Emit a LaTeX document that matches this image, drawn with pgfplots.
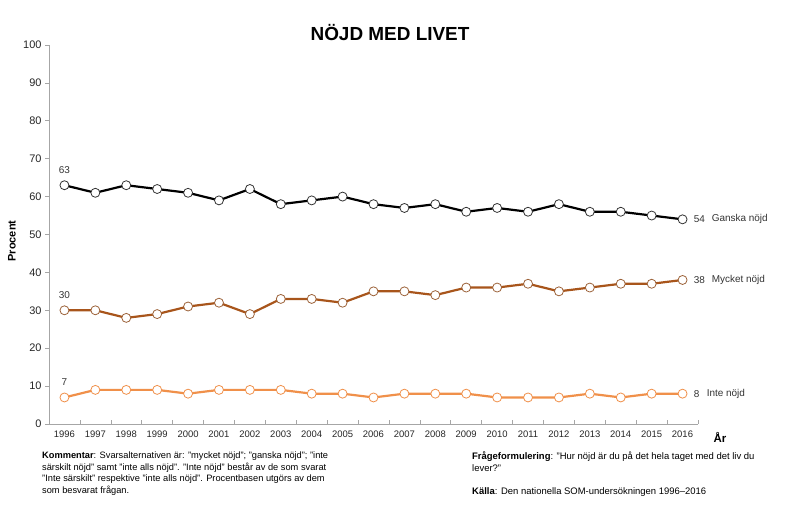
\documentclass[border=0pt]{standalone}
\usepackage{pgfplots}
\pgfplotsset{compat=1.18}
\usepackage{fontspec}
\setmainfont{Liberation Sans}

\definecolor{ganska}{HTML}{000000}
\definecolor{mycket}{HTML}{A8551B}
\definecolor{inte}{HTML}{F0904A}
\definecolor{axgray}{HTML}{A6A6A6}

\pgfplotstableread{
year ganska mycket inte
1996 63 30 7
1997 61 30 9
1998 63 28 9
1999 62 29 9
2000 61 31 8
2001 59 32 9
2002 62 29 9
2003 58 33 9
2004 59 33 8
2005 60 32 8
2006 58 35 7
2007 57 35 8
2008 58 34 8
2009 56 36 8
2010 57 36 7
2011 56 37 7
2012 58 35 7
2013 56 36 8
2014 56 37 7
2015 55 37 8
2016 54 38 8
}\somdata

\begin{document}
\begin{tikzpicture}[x=1bp,y=1bp]
\useasboundingbox (0,0) rectangle (800,518);
\node[font=\fontsize{19}{21}\selectfont\bfseries] at (390,485) {NÖJD MED LIVET};
\node[font=\fontsize{11}{13}\selectfont\bfseries,rotate=90] at (12,277) {Procent};
\node[font=\fontsize{11.5}{13}\selectfont\bfseries] at (720,81) {År};
\begin{axis}[
  at={(49bp,94bp)}, anchor=south west,
  width=649bp, height=379bp, scale only axis,
  xmin=1995.5, xmax=2016.5, ymin=0, ymax=100,
  axis lines*=left,
  axis line style={axgray, line width=0.8pt},
  xtick={1996,...,2016},
  minor xtick={1995.5,1996.5,...,2016.5},
  major x tick style={draw=none},
  minor x tick style={axgray, line width=0.6pt},
  minor tick length=4bp,
  ytick={0,10,...,100},
  y tick style={axgray, line width=0.6pt},
  major tick length=4bp,
  tick align=inside,
  ytick align=outside,
  x tick label style={font=\fontsize{9.5}{11}\selectfont, text=black!85, /pgf/number format/1000 sep={}},
  y tick label style={font=\fontsize{11}{13}\selectfont, text=black!85},
  xticklabel style={yshift=-3bp},
  /pgf/number format/assume math mode=true,
  clip=false,
  every axis plot/.append style={line width=2.2pt, mark=*, mark size=4.5bp},
]
\addplot[ganska, mark options={fill=white, draw=black!80, line width=0.8pt}] table[x=year,y=ganska] {\somdata};
\addplot[mycket, mark options={fill=white, draw=mycket!70!gray, line width=0.8pt}] table[x=year,y=mycket] {\somdata};
\addplot[inte, mark options={fill=white, draw=inte, line width=0.8pt}] table[x=year,y=inte] {\somdata};

\node[font=\fontsize{10}{12}\selectfont, text=black!80] at (axis cs:1996,63) [yshift=15bp] {63};
\node[font=\fontsize{10}{12}\selectfont, text=black!80] at (axis cs:1996,30) [yshift=15bp] {30};
\node[font=\fontsize{10}{12}\selectfont, text=black!80] at (axis cs:1996,7) [yshift=15bp] {7};

\node[font=\fontsize{10}{12}\selectfont, text=black!80, anchor=west, inner sep=0pt] at (axis cs:2016,54) [xshift=11bp] {54};
\node[font=\fontsize{10}{12}\selectfont, text=black!80, anchor=west, inner sep=0pt] at (axis cs:2016,54) [xshift=29bp] {Ganska nöjd};
\node[font=\fontsize{10}{12}\selectfont, text=black!80, anchor=west, inner sep=0pt] at (axis cs:2016,38) [xshift=11bp] {38};
\node[font=\fontsize{10}{12}\selectfont, text=black!80, anchor=west, inner sep=0pt] at (axis cs:2016,38) [xshift=29bp] {Mycket nöjd};
\node[font=\fontsize{10}{12}\selectfont, text=black!80, anchor=west, inner sep=0pt] at (axis cs:2016,8) [xshift=11bp] {8};
\node[font=\fontsize{10}{12}\selectfont, text=black!80, anchor=west, inner sep=0pt] at (axis cs:2016,8) [xshift=24bp] {Inte nöjd};
\end{axis}

\node[anchor=north west, align=left, inner sep=0pt,
  font=\fontsize{9.3}{11.5}\selectfont] at (42,66) {%
\textbf{Kommentar}: Svarsalternativen är: "mycket nöjd"; "ganska nöjd"; "inte\\
särskilt nöjd" samt "inte alls nöjd". "Inte nöjd" består av de som svarat\\
"Inte särskilt" respektive "inte alls nöjd". Procentbasen utgörs av dem\\
som besvarat frågan.};
\node[anchor=north west, align=left, inner sep=0pt,
  font=\fontsize{9.5}{11.5}\selectfont] at (472,66) {%
\textbf{Frågeformulering}: "Hur nöjd är du på det hela taget med det liv du\\
lever?"\\[11.5bp]
\textbf{Källa}: Den nationella SOM-undersökningen 1996–2016};
\end{tikzpicture}
\end{document}
